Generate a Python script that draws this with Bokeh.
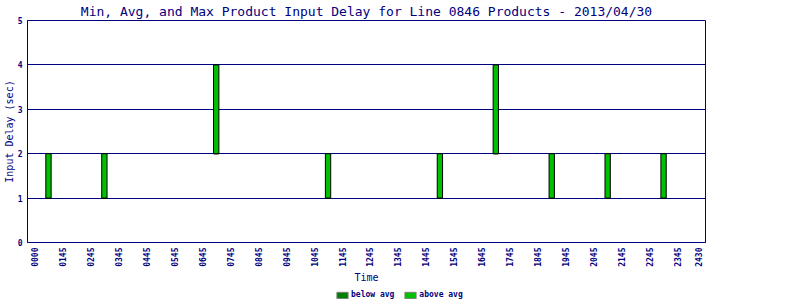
from bokeh.plotting import figure
from bokeh.layouts import column
from bokeh.models import Range1d, FixedTicker, ColumnDataSource, Legend, LegendItem
from bokeh.embed import file_html
from bokeh.resources import INLINE
import math

# ---- data ----
tick_labels = ["0000", "0145", "0245", "0345", "0445", "0545", "0645", "0745",
               "0845", "0945", "1045", "1145", "1245", "1345", "1445", "1545",
               "1645", "1745", "1845", "1945", "2045", "2145", "2245", "2345", "2430"]
tick_slots = list(range(24)) + [23.75]

bar_slots = [0.5, 2.5, 6.5, 10.5, 14.5, 16.5, 18.5, 20.5, 22.5]
min_delay = [1, 1, 2, 1, 1, 2, 1, 1, 1]
avg_delay = [1, 1, 2, 1, 1, 2, 1, 1, 1]
max_delay = [2, 2, 4, 2, 2, 4, 2, 2, 2]

y_ticks = [0, 1, 2, 3, 4, 5]

NAVY = "#000080"
DARK = "#008000"
LIGHT = "#00C000"
MONO = "DejaVu Sans Mono"

src = ColumnDataSource(dict(x=bar_slots, mn=min_delay, av=avg_delay, mx=max_delay))

p = figure(width=800, height=289, output_backend="svg", toolbar_location=None,
           x_range=Range1d(-0.25, 24), y_range=Range1d(0, 5),
           min_border_left=27, min_border_right=95, min_border_top=20, min_border_bottom=47,
           title="Min, Avg, and Max Product Input Delay for Line 0846 Products - 2013/04/30")
p.background_fill_color = "white"
p.border_fill_color = "white"
p.outline_line_color = NAVY
p.outline_line_width = 1

p.title.text_font = MONO
p.title.text_font_size = "13px"
p.title.text_font_style = "normal"
p.title.text_color = NAVY
p.title.align = "center"
p.title.standoff = 3

p.vbar(x="x", bottom="mn", top="av", width=0.19, source=src,
       fill_color=DARK, line_color="black", line_width=1)
p.vbar(x="x", bottom="av", top="mx", width=0.19, source=src,
       fill_color=LIGHT, line_color="black", line_width=1)

# axes
xa = p.xaxis[0]
xa.ticker = FixedTicker(ticks=tick_slots)
xa.major_label_overrides = {t: lab for t, lab in zip(tick_slots, tick_labels)}
xa.major_label_orientation = math.pi / 2
xa.major_label_text_font = MONO
xa.major_label_text_font_size = "8px"
xa.major_label_text_font_style = "bold"
xa.major_label_text_color = NAVY
xa.major_label_standoff = 5
xa.major_tick_line_color = None
xa.minor_tick_line_color = None
xa.major_tick_out = 0
xa.axis_line_color = NAVY
xa.axis_label = "Time"
xa.axis_label_text_font = MONO
xa.axis_label_text_font_size = "10px"
xa.axis_label_text_font_style = "normal"
xa.axis_label_text_color = NAVY
xa.axis_label_standoff = 2

ya = p.yaxis[0]
ya.ticker = FixedTicker(ticks=y_ticks)
ya.major_label_text_font = MONO
ya.major_label_text_font_size = "8px"
ya.major_label_text_font_style = "bold"
ya.major_label_text_color = NAVY
ya.major_label_standoff = 5
ya.major_tick_line_color = None
ya.minor_tick_line_color = None
ya.major_tick_out = 0
ya.axis_line_color = NAVY
ya.axis_label = "Input Delay (sec)"
ya.axis_label_text_font = MONO
ya.axis_label_text_font_size = "10px"
ya.axis_label_text_font_style = "normal"
ya.axis_label_text_color = NAVY
ya.axis_label_standoff = 0

p.xgrid.visible = False
p.ygrid.ticker = FixedTicker(ticks=y_ticks)
p.ygrid.grid_line_color = NAVY
p.ygrid.grid_line_width = 1

# ---- legend strip under the chart ----
lg = figure(width=800, height=11, output_backend="svg", toolbar_location=None,
            x_axis_location=None, y_axis_location=None,
            x_range=Range1d(0, 1), y_range=Range1d(0, 1),
            min_border=0, min_border_left=0, min_border_right=0,
            min_border_top=0, min_border_bottom=0)
lg.outline_line_color = None
lg.grid.visible = False
lg.background_fill_color = "white"
lg.border_fill_color = "white"
r_below = lg.vbar(x="x", bottom="mn", top="av", width=0.19, source=src,
                  fill_color=DARK, line_color="#808080", line_width=1, visible=False)
r_above = lg.vbar(x="x", bottom="av", top="mx", width=0.19, source=src,
                  fill_color=LIGHT, line_color="#808080", line_width=1, visible=False)

legend = Legend(items=[LegendItem(label="below avg", renderers=[r_below]),
                       LegendItem(label="above avg", renderers=[r_above])],
                orientation="horizontal", location=(308, 1),
                glyph_width=14, glyph_height=8, label_height=8, label_standoff=2,
                spacing=9, padding=0, margin=0,
                border_line_color=None, background_fill_alpha=0,
                label_text_font=MONO, label_text_font_size="8px",
                label_text_font_style="bold", label_text_color=NAVY)
lg.add_layout(legend, "center")

layout = column(p, lg, spacing=0)
open("out.html", "w").write(file_html(layout, INLINE))
